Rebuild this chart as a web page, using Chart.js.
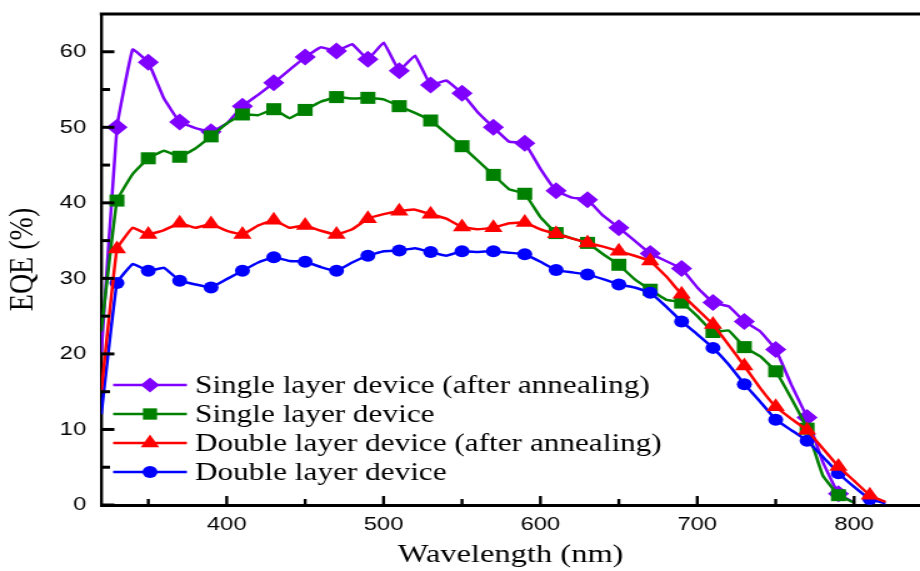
<!DOCTYPE html>
<html>
<head>
<meta charset="utf-8">
<script src="https://cdn.jsdelivr.net/npm/chart.js@4.4.1/dist/chart.umd.min.js"></script>
<style>
    html, body { margin: 0; padding: 0; background: #fff; overflow: hidden; }
    #wrap { width: 736px; height: 571px; transform: scaleX(1.25); transform-origin: 0 0; }
</style>
</head>
<body>
<div id="wrap"><canvas id="eqeChart" width="736" height="571"></canvas></div>
<script>
const wavelengths = [320, 330, 340, 350, 360, 370, 380, 390, 400, 410, 420, 430, 440, 450, 460, 470, 480, 490, 500, 510,
    520, 530, 540, 550, 560, 570, 580, 590, 600, 610, 620, 630, 640, 650, 660, 670, 680, 690, 700, 710,
    720, 730, 740, 750, 760, 770, 780, 790, 800, 810, 820];

const singleAnnealed = [20, 50.0, 60.3, 58.6, 53.8, 50.7, 49.9, 49.4, 50.5, 52.8, 54.3, 55.9, 57.6, 59.3, 60.6, 60.1, 61.0, 59.0, 61.2, 57.5,
    59.5, 55.6, 56.2, 54.5, 52.0, 50.0, 48.1, 47.9, 44.5, 41.6, 40.7, 40.4, 38.3, 36.7, 35.0, 33.3, 32.3, 31.3, 28.8, 26.8,
    26.3, 24.3, 23.0, 20.6, 15.9, 11.6, 5.7, 1.5, 0.3, null, null];

const singleDevice = [23, 40.3, 43.8, 45.9, 46.9, 46.1, 47.2, 48.8, 50.5, 51.7, 51.6, 52.4, 51.2, 52.3, 53.4, 54.0, 53.8, 53.9, 53.7, 52.8,
    51.9, 50.9, 49.2, 47.5, 45.6, 43.7, 41.8, 41.2, 38.1, 36.0, 35.3, 34.7, 33.2, 31.8, 29.9, 28.5, 27.2, 26.8, 25.0, 22.9,
    23.1, 20.9, 19.7, 17.7, 14.1, 10.1, 3.9, 1.3, 0.3, null, null];

const doubleAnnealed = [15, 33.9, 36.7, 35.8, 36.4, 37.3, 36.7, 37.2, 36.3, 35.8, 37.0, 37.7, 36.7, 37.0, 36.3, 35.8, 36.5, 37.9, 38.5, 38.9,
    39.1, 38.5, 37.9, 36.8, 36.5, 36.7, 37.3, 37.4, 36.5, 35.9, 35.3, 34.7, 34.2, 33.6, 33.0, 32.3, 30.3, 27.9, 25.9, 23.9,
    21.2, 18.4, 15.5, 13.0, 11.4, 9.9, 7.5, 5.1, 3.2, 1.3, 0.4];

const doubleDevice = [12, 29.4, 31.9, 31.0, 31.4, 29.7, 29.2, 28.8, 29.9, 31.0, 32.1, 32.8, 32.3, 32.2, 31.5, 31.0, 32.1, 33.0, 33.6, 33.7,
    34.0, 33.5, 33.0, 33.6, 33.5, 33.6, 33.4, 33.2, 32.2, 31.1, 30.8, 30.5, 29.9, 29.2, 28.8, 28.1, 26.3, 24.3, 22.6, 20.8,
    18.6, 16.0, 13.7, 11.3, 9.9, 8.5, 6.4, 4.2, 2.4, 0.8, 0.2];

const seriesLabels = [
    "Single layer device (after annealing)",
    "Single layer device",
    "Double layer device (after annealing)",
    "Double layer device"
];

const yMinorTicks = [5, 15, 25, 35, 45, 55];
const xMinorTicks = [350, 450, 550, 650, 750];

function toPoints(values) {
    return wavelengths.map((w, i) => ({ x: w, y: values[i] }));
}

function markerRadius(r) {
    // symbols only every 20 nm, starting at 330 nm
    return ctx => ((wavelengths[ctx.dataIndex] - 330) % 20 === 0 ? r : 0);
}

function makeSet(label, values, color, shape, r, order) {
    return {
        label,
        data: toPoints(values),
        borderColor: color,
        backgroundColor: color,
        borderWidth: 2.5,
        tension: 0.08,
        pointStyle: shape,
        pointRadius: markerRadius(r),
        pointHoverRadius: markerRadius(r),
        pointBorderWidth: 0,
        order
    };
}

function drawMark(ctx, shape, x, y, r) {
    ctx.beginPath();
    if (shape === "rectRot") {
        ctx.moveTo(x, y - r); ctx.lineTo(x + r, y); ctx.lineTo(x, y + r); ctx.lineTo(x - r, y);
    } else if (shape === "rect") {
        const s = r * Math.SQRT1_2;
        ctx.rect(x - s, y - s, 2 * s, 2 * s);
    } else if (shape === "triangle") {
        ctx.moveTo(x, y - r); ctx.lineTo(x + r * 0.866, y + r / 2); ctx.lineTo(x - r * 0.866, y + r / 2);
    } else {
        ctx.arc(x, y, r, 0, Math.PI * 2);
    }
    ctx.closePath();
    ctx.fill();
}

const frameAndLegend = {
    id: "frameAndLegend",
    afterDraw(chart) {
        const { ctx, chartArea: a, scales: { x, y } } = chart;
        ctx.save();

        // top frame line
        ctx.fillStyle = "#000";
        ctx.fillRect(a.left - 1.2, a.top - 1.5, chart.width - a.left + 1.2, 3);

        // inward ticks on the left axis
        ctx.strokeStyle = "#000";
        ctx.lineWidth = 3;
        y.ticks.forEach(t => {
            const py = y.getPixelForValue(t.value);
            ctx.beginPath(); ctx.moveTo(a.left, py); ctx.lineTo(a.left + 10.5, py); ctx.stroke();
        });
        yMinorTicks.forEach(v => {
            const py = y.getPixelForValue(v);
            ctx.beginPath(); ctx.moveTo(a.left, py); ctx.lineTo(a.left + 7, py); ctx.stroke();
        });

        // inward ticks on the bottom axis
        ctx.lineWidth = 2.4;
        x.ticks.forEach(t => {
            const px = x.getPixelForValue(t.value);
            ctx.beginPath(); ctx.moveTo(px, a.bottom); ctx.lineTo(px, a.bottom - 9); ctx.stroke();
        });
        xMinorTicks.forEach(v => {
            const px = x.getPixelForValue(v);
            ctx.beginPath(); ctx.moveTo(px, a.bottom); ctx.lineTo(px, a.bottom - 6); ctx.stroke();
        });

        // legend inside the plot
        chart.data.datasets.forEach((ds, i) => {
            const ly = 385 + i * 29;
            ctx.strokeStyle = ds.borderColor;
            ctx.fillStyle = ds.borderColor;
            ctx.lineWidth = 2.5;
            ctx.beginPath(); ctx.moveTo(90.5, ly); ctx.lineTo(149.5, ly); ctx.stroke();
            drawMark(ctx, ds.pointStyle, 120, ly, ds.legendR);
            ctx.fillStyle = "#000";
            ctx.font = "25px 'Liberation Serif', 'Times New Roman', serif";
            ctx.textBaseline = "alphabetic";
            ctx.fillText(ds.label, 156, ly + 7.5);
        });
        ctx.restore();
    }
};

const datasets = [
    makeSet(seriesLabels[0], singleAnnealed, "#7F00FF", "rectRot", 8.5, 3),
    makeSet(seriesLabels[1], singleDevice, "#008000", "rect", 8.5, 2),
    makeSet(seriesLabels[2], doubleAnnealed, "#FF0000", "triangle", 8.5, 0),
    makeSet(seriesLabels[3], doubleDevice, "#0000FF", "circle", 6, 1)
];
datasets[0].legendR = 7.5;
datasets[1].legendR = 8;
datasets[2].legendR = 8.5;
datasets[3].legendR = 6;

const serifFont = "'Liberation Serif', 'Times New Roman', serif";
const sansFont = "'Liberation Sans', Arial, sans-serif";

new Chart(document.getElementById("eqeChart"), {
    type: "line",
    data: { datasets },
    options: {
        responsive: false,
        animation: false,
        layout: { padding: { top: 14, left: 0, right: 0, bottom: 0 } },
        plugins: { legend: { display: false }, tooltip: { enabled: false } },
        scales: {
            x: {
                type: "linear",
                min: 320,
                max: 842,
                grid: { display: false, drawTicks: false },
                border: { display: true, color: "#000", width: 3 },
                ticks: {
                    stepSize: 100,
                    includeBounds: false,
                    padding: 8,
                    color: "#000",
                    maxRotation: 0,
                    font: { family: sansFont, size: 19 },
                    callback: v => (v % 100 === 0 ? v : "")
                },
                title: {
                    display: true,
                    text: "Wavelength (nm)",
                    color: "#000",
                    font: { family: serifFont, size: 26 },
                    padding: { top: 0, bottom: 0 }
                },
                afterFit(scale) {
                    scale.height = 66;
                    scale.paddingLeft = 0;
                    scale.paddingRight = 0;
                }
            },
            y: {
                min: 0,
                max: 65,
                grid: { display: false, drawTicks: false },
                border: { display: true, color: "#000", width: 2.4 },
                ticks: {
                    stepSize: 10,
                    includeBounds: false,
                    padding: 12,
                    color: "#000",
                    font: { family: sansFont, size: 19 },
                    callback: v => (v % 10 === 0 ? v : "")
                },
                title: {
                    display: true,
                    text: "EQE (%)",
                    color: "#000",
                    font: { family: serifFont, size: 28 },
                    padding: { top: 2, bottom: 0 }
                },
                afterFit(scale) {
                    scale.width = 81;
                    scale.paddingTop = 0;
                    scale.paddingBottom = 0;
                }
            }
        }
    },
    plugins: [frameAndLegend]
});
</script>
</body>
</html>
